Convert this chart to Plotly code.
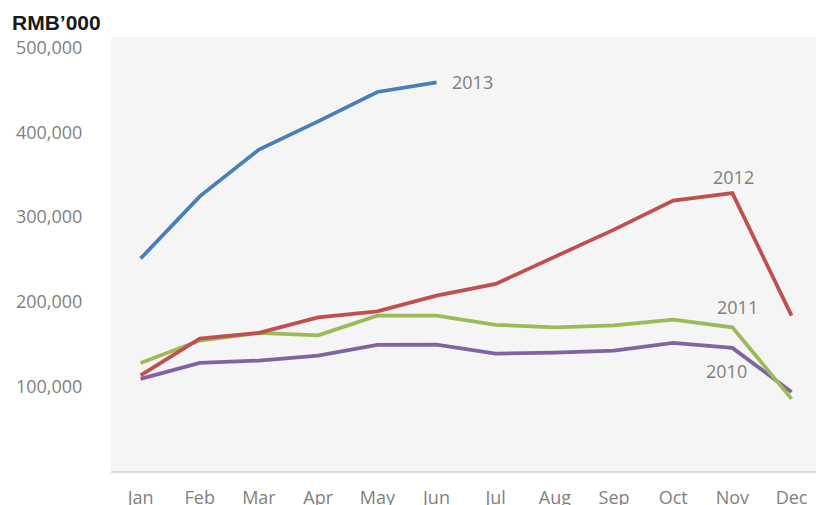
import plotly.graph_objects as go

months = ["Jan", "Feb", "Mar", "Apr", "May", "Jun", "Jul", "Aug", "Sep", "Oct", "Nov", "Dec"]
y2013 = [250900, 324400, 379600, 413000, 447700, 459000]
y2012 = [113000, 156400, 163100, 181500, 188600, 207200, 221000, 253600, 285100, 319400, 328200, 183500]
y2011 = [127700, 154000, 163100, 160300, 183500, 183500, 172600, 169700, 172100, 178800, 169700, 85200]
y2010 = [108800, 127700, 130400, 136300, 148900, 149300, 138700, 139800, 142200, 151300, 145400, 93400]
y_ticks = [100000, 200000, 300000, 400000, 500000]
y_tick_text = ["100,000", "200,000", "300,000", "400,000", "500,000"]

series = [
    ("2010", y2010, "#8064a2"),
    ("2011", y2011, "#9bbb59"),
    ("2012", y2012, "#c0504d"),
    ("2013", y2013, "#4a7ebb"),
]

fig = go.Figure()
for name, vals, color in series:
    fig.add_trace(go.Scatter(
        x=months[:len(vals)], y=vals, mode="lines", name=name,
        line=dict(color=color, width=3.75),
    ))

label_font = dict(family="Open Sans", size=18, color="#7f7f7f")
labels = [("2013", 5.61, 459000), ("2012", 10.02, 347000), ("2011", 10.09, 193300), ("2010", 9.90, 118600)]
for txt, xi, yv in labels:
    fig.add_annotation(x=xi, y=yv, text=txt, showarrow=False, font=label_font,
                       xanchor="center", yanchor="middle")

fig.add_annotation(xref="paper", yref="paper", x=-101/705, y=1 + 15/434, xanchor="left",
                   yanchor="middle", text="<b>RMB’000</b>", showarrow=False,
                   font=dict(family="Liberation Sans", size=21, color="#1a1a1a"))

fig.update_layout(
    width=816, height=505,
    margin=dict(l=111, r=0, t=37, b=34, autoexpand=False),
    paper_bgcolor="white", plot_bgcolor="#f5f5f5",
    showlegend=False,
    xaxis=dict(type="category", range=[-0.5, 11.413], showgrid=False, zeroline=False,
               automargin=False,
               showline=True, linecolor="#d9d9d9", linewidth=2,
               ticks="outside", ticklen=9, tickcolor="rgba(0,0,0,0)",
               tickfont=dict(family="Open Sans", size=18, color="#7f7f7f")),
    yaxis=dict(range=[0, 512600], showgrid=False, zeroline=False, showline=False,
               automargin=False,
               tickvals=y_ticks, ticktext=y_tick_text,
               ticks="outside", ticklen=24, tickcolor="rgba(0,0,0,0)",
               tickfont=dict(family="Open Sans", size=18, color="#7f7f7f")),
)

fig.write_html("out.html", config={"displayModeBar": False},
               post_script="document.body.style.margin='0';")
